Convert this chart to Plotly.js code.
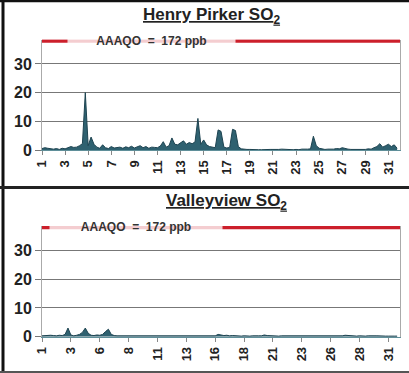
<!DOCTYPE html>
<html>
<head>
<meta charset="utf-8">
<script src="https://cdn.plot.ly/plotly-3.0.1.min.js"></script>
<style>html,body{margin:0;padding:0;background:#fff;}#chart{width:409px;height:373px;}</style>
</head>
<body>
<div id="chart"></div>
<script>
// ---- data (4 readings per day, ppb) ----
const samplesPerDay = 4;
const henryPirker = [
  0.5,0.8,0.6,0.4,  0.3,0.5,0.2,0.6,  0.4,0.8,1.2,0.9,  1.0,1.5,2.2,20.0,
  1.5,4.5,2.0,1.0,  0.6,1.8,0.8,0.5,  1.2,0.7,0.9,1.0,  0.6,1.1,0.8,1.3,
  0.7,1.0,1.5,0.8,  1.2,0.6,1.0,0.9,  0.8,1.4,2.9,1.0,  1.5,4.2,2.0,1.8,
  2.5,3.2,2.0,2.6,  2.2,2.8,11.0,2.0, 3.5,1.8,1.2,0.9,  0.8,7.0,6.5,1.0,
  0.7,0.9,7.2,6.8,  1.2,0.4,0.2,0.2,  0.2,0.1,0.2,0.1,  0.1,0.2,0.1,0.2,
  0.2,0.1,0.2,0.3,  0.2,0.3,0.2,0.1,  0.2,0.1,0.3,0.2,  0.3,0.4,4.8,1.5,
  0.6,0.4,0.2,0.3,  0.2,0.3,0.5,0.4,  0.8,0.5,0.3,0.2,  0.2,0.1,0.2,0.3,
  0.2,0.4,0.3,0.8,  1.2,2.2,1.0,1.5,  2.0,1.2,1.8,0.6
];
const valleyview = [
  0.3,0.4,0.3,0.5,  0.4,0.3,0.5,0.4,  0.8,3.0,0.6,0.3,  0.5,0.8,1.5,3.0,
  1.2,0.5,0.4,0.6,  0.5,0.8,1.8,2.6,  0.8,0.4,0.3,0.3,  0.3,0.2,0.3,0.2,
  0.2,0.3,0.2,0.3,  0.2,0.2,0.3,0.2,  0.3,0.2,0.2,0.3,  0.2,0.3,0.2,0.2,
  0.3,0.2,0.3,0.2,  0.2,0.3,0.2,0.3,  0.3,0.2,0.3,0.2,  0.3,0.8,0.6,0.4,
  0.5,0.3,0.4,0.3,  0.3,0.2,0.3,0.2,  0.2,0.3,0.2,0.3,  0.3,0.6,0.4,0.3,
  0.4,0.3,0.2,0.3,  0.3,0.2,0.3,0.2,  0.2,0.3,0.2,0.3,  0.3,0.2,0.3,0.2,
  0.2,0.3,0.2,0.3,  0.3,0.2,0.3,0.4,  0.3,0.5,0.4,0.3,  0.3,0.2,0.3,0.2,
  0.2,0.3,0.2,0.3,  0.3,0.2,0.3,0.2,  0.2,0.3,0.2,0.2
];
const titles = ["Henry Pirker SO<sub>2</sub>", "Valleyview SO<sub>2</sub>"];
const aaaqoLabel = "AAAQO  =  172 ppb";
const aaaqoDisplayLevel = 38;   // objective (172 ppb) drawn at top of the clipped axis
const topTickVals = [1,3,5,7,9,11,13,15,17,19,21,23,25,27,29,31];
const topTickText = ["1","3","5","7","9","11","13","15","17","19","21","23","25","27","29","31"];
const botTickVals = [1,3.5,6,8.5,11,13.5,16,18.5,21,23.5,26,28.5,31];
const botTickText = ["1","3","6","8","11","13","16","18","21","23","26","28","31"];
const yTicks = [0,10,20,30];

// ---- helpers ----
const W = 409, H = 373;
const px = x => x / W;
const py = y => 1 - y / H;
const xs = arr => arr.map((_, i) => 1 + i / samplesPerDay);
const xRange = [1, 32];

const areaStyle = {
  type: 'scatter', mode: 'lines', fill: 'tozeroy',
  line: {color: '#1d4350', width: 1},
  fillcolor: '#2f6170', hoverinfo: 'skip', showlegend: false
};
const redLine = {
  type: 'scatter', mode: 'lines', line: {color: '#cc1f2b', width: 3.5},
  hoverinfo: 'skip', showlegend: false
};

const traces = [
  Object.assign({}, areaStyle, {x: xs(henryPirker), y: henryPirker, xaxis: 'x', yaxis: 'y'}),
  Object.assign({}, redLine, {x: xRange, y: [aaaqoDisplayLevel, aaaqoDisplayLevel], xaxis: 'x', yaxis: 'y'}),
  Object.assign({}, areaStyle, {x: xs(valleyview), y: valleyview, xaxis: 'x2', yaxis: 'y2'}),
  Object.assign({}, redLine, {x: xRange, y: [aaaqoDisplayLevel, aaaqoDisplayLevel], xaxis: 'x2', yaxis: 'y2'})
];

const font = 'Liberation Sans, Arial, sans-serif';
const xBase = {
  range: xRange, domain: [px(42), px(400)], tickmode: 'array', tickangle: -90,
  ticks: 'outside', ticklen: 4, tickcolor: '#888', showgrid: false, zeroline: false,
  showline: true, linecolor: '#5f8f99', linewidth: 1,
  tickfont: {family: font, size: 13, color: '#222', weight: 'bold'}, fixedrange: true
};
const yBase = {
  range: [0, 38.5], tickmode: 'array', tickvals: yTicks, ticktext: yTicks.map(String),
  ticks: 'outside', ticklen: 6, tickcolor: '#777', showgrid: true, gridcolor: '#777', gridwidth: 1,
  zeroline: false, showline: true, linecolor: '#aaa', mirror: true,
  tickfont: {family: font, size: 16, color: '#222', weight: 'bold'}, fixedrange: true
};

const layout = {
  width: W, height: H, margin: {l: 0, r: 0, t: 0, b: 0},
  paper_bgcolor: '#fff', plot_bgcolor: '#fff', showlegend: false,
  xaxis: Object.assign({}, xBase, {anchor: 'y', tickvals: topTickVals, ticktext: topTickText}),
  yaxis: Object.assign({}, yBase, {anchor: 'x', domain: [py(150), py(39.5)]}),
  xaxis2: Object.assign({}, xBase, {anchor: 'y2', tickvals: botTickVals, ticktext: botTickText}),
  yaxis2: Object.assign({}, yBase, {anchor: 'x2', domain: [py(336.7), py(226)]}),
  annotations: [
    {xref: 'paper', yref: 'paper', x: px(212), y: py(16), xanchor: 'center', yanchor: 'middle',
     text: '<b><u>' + titles[0] + '</u></b>',
     showarrow: false, font: {family: font, size: 17, color: '#222'}},
    {xref: 'paper', yref: 'paper', x: px(227), y: py(202), xanchor: 'center', yanchor: 'middle',
     text: '<b><u>' + titles[1] + '</u></b>',
     showarrow: false, font: {family: font, size: 17, color: '#222'}},
    {xref: 'paper', yref: 'y', x: px(151), y: aaaqoDisplayLevel, xanchor: 'center', yanchor: 'middle',
     text: '<b>' + aaaqoLabel + '</b>',
     showarrow: false, width: 165, bgcolor: 'rgba(255,255,255,0.78)', borderpad: 1,
     font: {family: font, size: 12, color: '#333'}},
    {xref: 'paper', yref: 'y2', x: px(136), y: aaaqoDisplayLevel, xanchor: 'center', yanchor: 'middle',
     text: '<b>' + aaaqoLabel + '</b>',
     showarrow: false, width: 170, bgcolor: 'rgba(255,255,255,0.78)', borderpad: 1,
     font: {family: font, size: 12, color: '#333'}}
  ],
  shapes: [
    {type: 'line', xref: 'paper', yref: 'paper', x0: px(3), x1: px(3), y0: 0, y1: 1, line: {color: '#111', width: 3}},
    {type: 'line', xref: 'paper', yref: 'paper', x0: 0, x1: 1, y0: py(1), y1: py(1), line: {color: '#111', width: 2.5}},
    {type: 'line', xref: 'paper', yref: 'paper', x0: 0, x1: 1, y0: py(187.5), y1: py(187.5), line: {color: '#222', width: 3}},
    {type: 'line', xref: 'paper', yref: 'paper', x0: 0, x1: 1, y0: py(372), y1: py(372), line: {color: '#555', width: 2}}
  ]
};

Plotly.newPlot('chart', traces, layout, {staticPlot: true, displayModeBar: false});
</script>
</body>
</html>
